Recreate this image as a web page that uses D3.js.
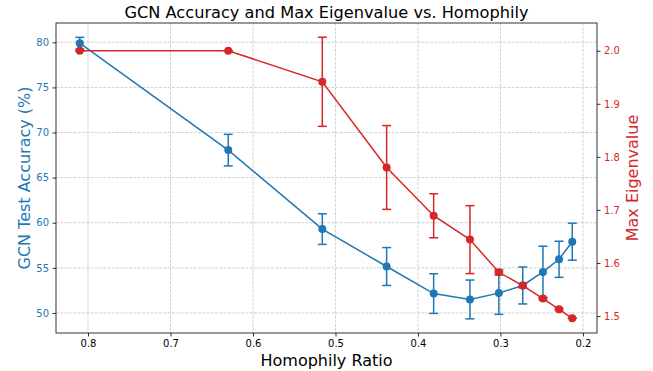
<!DOCTYPE html>
<html>
<head>
<meta charset="utf-8">
<script src="https://cdn.jsdelivr.net/npm/d3@7"></script>
<style>
  body { margin: 0; background: #fff; }
  svg { font-family: "DejaVu Sans", sans-serif; }
</style>
</head>
<body>
<div id="chart"></div>
<script>
// data
const homophily = [0.81, 0.63, 0.516, 0.438, 0.381, 0.337, 0.302, 0.273, 0.2485, 0.229, 0.213]
const accMean = [79.9, 68.05, 59.3, 55.15, 52.15, 51.5, 52.2, 53.05, 54.55, 55.95, 57.9]
const accErr = [0.65, 1.75, 1.7, 2.1, 2.2, 2.15, 2.35, 2.05, 2.85, 2.0, 2.05]
const eigMean = [2.0, 2.0, 1.9415, 1.78, 1.689, 1.644, 1.5825, 1.5573, 1.5328, 1.5126, 1.4957]
const eigErr = [0, 0, 0.084, 0.079, 0.0415, 0.064, 0.005, 0.004, 0.002, 0.002, 0]
const xTicks = [0.8, 0.7, 0.6, 0.5, 0.4, 0.3, 0.2]
const accTicks = [50, 55, 60, 65, 70, 75, 80]
const eigTicks = [1.5, 1.6, 1.7, 1.8, 1.9, 2.0]

const W = 653, H = 371
const m = { left: 56, right: 597, top: 23, bottom: 333 }
const blue = '#1f77b4', red = '#d62728'

const svg = d3.select('#chart').append('svg')
    .attr('width', W)
    .attr('height', H)

const x = d3.scaleLinear().domain([0.8388, 0.183]).range([m.left, m.right])
const yL = d3.scaleLinear().domain([47.78, 82.14]).range([m.bottom, m.top])
const yR = d3.scaleLinear().domain([1.468, 2.0523]).range([m.bottom, m.top])

// grid
const grid = svg.append('g')
    .attr('stroke', '#b0b0b0')
    .attr('stroke-width', 0.8)
    .attr('stroke-dasharray', '3,1.3')
    .attr('opacity', 0.7)
grid.selectAll('.gx').data(xTicks).enter().append('line')
    .attr('x1', d => x(d)).attr('x2', d => x(d))
    .attr('y1', m.top).attr('y2', m.bottom)
grid.selectAll('.gy').data(accTicks).enter().append('line')
    .attr('x1', m.left).attr('x2', m.right)
    .attr('y1', d => yL(d)).attr('y2', d => yL(d))

// axes
const fmt1 = d3.format('.1f')
const xAxis = svg.append('g')
    .attr('transform', 'translate(0,' + m.bottom + ')')
    .call(d3.axisBottom(x).tickValues(xTicks).tickFormat(fmt1).tickSizeOuter(0).tickSize(3.5).tickPadding(3.5))
const lAxis = svg.append('g')
    .attr('transform', 'translate(' + m.left + ',0)')
    .call(d3.axisLeft(yL).tickValues(accTicks).tickFormat(d3.format('d')).tickSizeOuter(0).tickSize(3.5).tickPadding(3.5))
const rAxis = svg.append('g')
    .attr('transform', 'translate(' + m.right + ',0)')
    .call(d3.axisRight(yR).tickValues(eigTicks).tickFormat(fmt1).tickSizeOuter(0).tickSize(3.5).tickPadding(3.5))

for (let a of [xAxis, lAxis, rAxis]) {
    a.select('.domain').remove()
    a.selectAll('text').attr('font-size', 10).attr('font-family', '"DejaVu Sans", sans-serif')
    a.selectAll('line').attr('stroke-width', 0.8)
}
xAxis.selectAll('text').attr('fill', '#000')
xAxis.selectAll('line').attr('stroke', '#000')
lAxis.selectAll('text').attr('fill', blue)
lAxis.selectAll('line').attr('stroke', '#000')
rAxis.selectAll('text').attr('fill', red)
rAxis.selectAll('line').attr('stroke', '#000')

// frame
svg.append('rect')
    .attr('x', m.left).attr('y', m.top)
    .attr('width', m.right - m.left).attr('height', m.bottom - m.top)
    .attr('fill', 'none').attr('stroke', '#000').attr('stroke-width', 0.8)

function series (means, errs, yScale, color) {
    let g = svg.append('g')
    let pts = homophily.map((h, i) => ({ h: h, v: means[i], e: errs[i] }))
    g.append('path')
        .datum(pts)
        .attr('fill', 'none')
        .attr('stroke', color)
        .attr('stroke-width', 1.5)
        .attr('d', d3.line().x(d => x(d.h)).y(d => yScale(d.v)))
    let eb = g.selectAll('.eb').data(pts).enter().append('g')
        .attr('stroke', color).attr('stroke-width', 1.5)
    eb.append('line')
        .attr('x1', d => x(d.h)).attr('x2', d => x(d.h))
        .attr('y1', d => yScale(d.v - d.e)).attr('y2', d => yScale(d.v + d.e))
    eb.append('line')
        .attr('x1', d => x(d.h) - 4.5).attr('x2', d => x(d.h) + 4.5)
        .attr('y1', d => yScale(d.v + d.e)).attr('y2', d => yScale(d.v + d.e))
    eb.append('line')
        .attr('x1', d => x(d.h) - 4.5).attr('x2', d => x(d.h) + 4.5)
        .attr('y1', d => yScale(d.v - d.e)).attr('y2', d => yScale(d.v - d.e))
    g.selectAll('circle').data(pts).enter().append('circle')
        .attr('cx', d => x(d.h)).attr('cy', d => yScale(d.v))
        .attr('r', 4).attr('fill', color)
}
series(accMean, accErr, yL, blue)
series(eigMean, eigErr, yR, red)

// labels
svg.append('text')
    .attr('x', (m.left + m.right) / 2).attr('y', 18)
    .attr('text-anchor', 'middle').attr('font-size', 16.2)
    .text('GCN Accuracy and Max Eigenvalue vs. Homophily')
svg.append('text')
    .attr('x', (m.left + m.right) / 2).attr('y', 366)
    .attr('text-anchor', 'middle').attr('font-size', 16)
    .text('Homophily Ratio')
svg.append('text')
    .attr('transform', 'translate(30,' + ((m.top + m.bottom) / 2) + ') rotate(-90)')
    .attr('text-anchor', 'middle').attr('font-size', 16).attr('fill', blue)
    .text('GCN Test Accuracy (%)')
svg.append('text')
    .attr('transform', 'translate(638,' + ((m.top + m.bottom) / 2) + ') rotate(-90)')
    .attr('text-anchor', 'middle').attr('font-size', 16).attr('fill', red)
    .text('Max Eigenvalue')
</script>
</body>
</html>
